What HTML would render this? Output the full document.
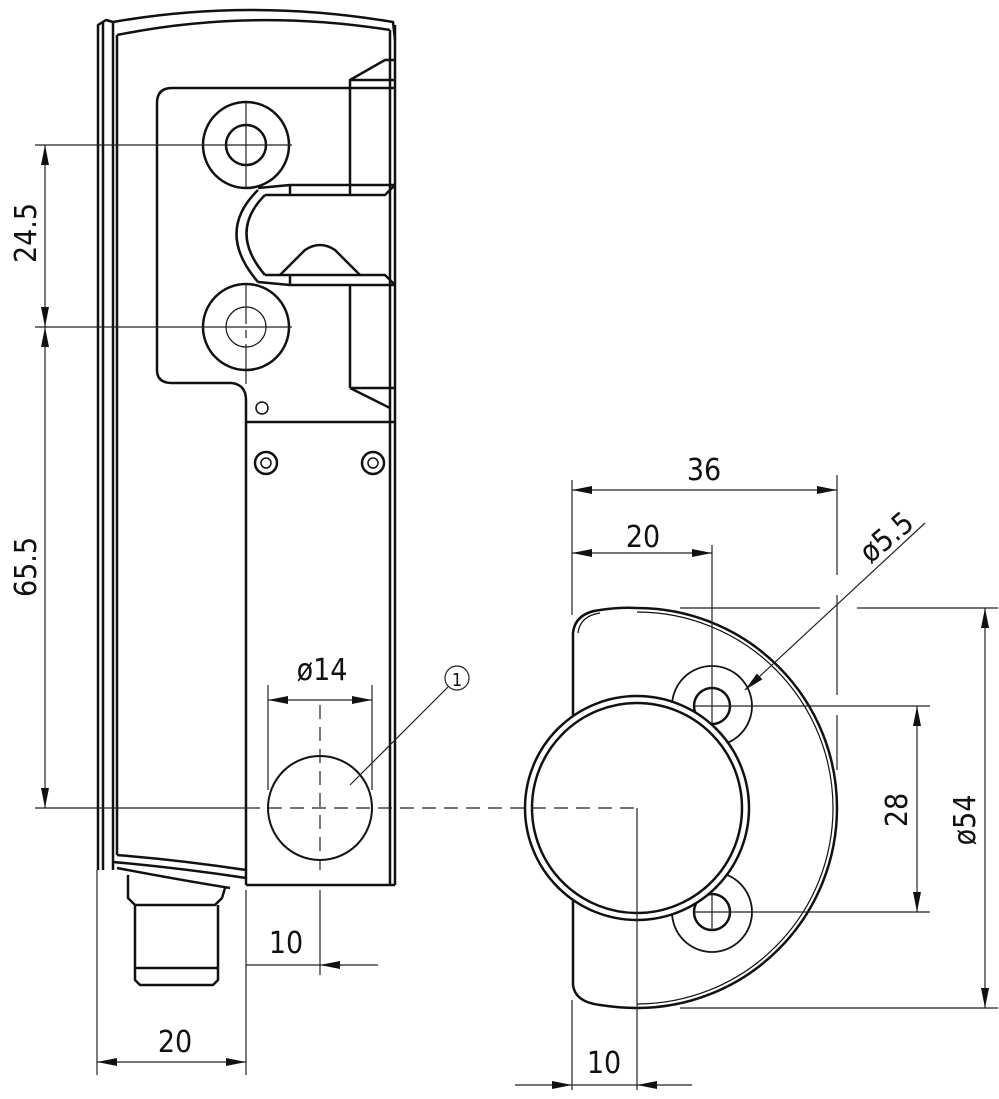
<!DOCTYPE html>
<html><head><meta charset="utf-8"><style>
html,body{margin:0;padding:0;background:#fff;}
svg{display:block;}
text{font-family:"DejaVu Sans Condensed","Liberation Sans Narrow","Liberation Sans",sans-serif;font-size:30px;fill:#111;}
</style></head><body>
<svg width="999" height="1099" viewBox="0 0 999 1099" xmlns="http://www.w3.org/2000/svg">
<defs>
<marker id="a" viewBox="0 0 20 8" refX="20" refY="4" markerWidth="20" markerHeight="8" markerUnits="userSpaceOnUse" orient="auto-start-reverse"><path d="M0,0 L20,4 L0,8 z" fill="#111"/></marker>
</defs>
<g fill="none" stroke="#111" stroke-width="2.5" stroke-linejoin="round">
<path d="M98,870 L98,25 L106,20 L113,22"/>
<line x1="103" y1="22" x2="103" y2="870"/>
<path d="M113,870 L113,22"/>
<path d="M117,35 L117,855"/>
<path d="M113,22 Q250,-2 393,22 L395,40"/>
<path d="M117,35 Q250,8 390,30"/>
<line x1="395" y1="25" x2="395" y2="885"/>
<line x1="390" y1="30" x2="390" y2="885"/>
<path d="M395,88 L172,88 Q157,88 157,103 L157,370 Q157,383 172,383 L232,383 Q246,385 246,400 L246,885"/>
<path d="M350,88 L350,80 L385,60 L395,60"/>
<line x1="350" y1="80" x2="395" y2="80"/>
<line x1="350" y1="88" x2="350" y2="195"/>
<path d="M258,188 L290,185 L395,185"/>
<path d="M265,195 L385,195 L395,185"/>
<line x1="290" y1="185" x2="290" y2="195"/>
<path d="M258,190 Q215,232 258,282"/>
<path d="M265,195 Q228,232 265,275"/>
<path d="M280,275 L305,250 Q320,240 335,250 L360,275"/>
<path d="M258,282 L290,285 L395,285"/>
<path d="M265,275 L385,275 L395,285"/>
<line x1="290" y1="275" x2="290" y2="285"/>
<line x1="350" y1="285" x2="350" y2="388"/>
<path d="M350,388 L390,408"/>
<line x1="350" y1="388" x2="395" y2="388"/>
<line x1="246" y1="422" x2="395" y2="422"/>
<circle cx="262" cy="408" r="6" stroke-width="1.5"/>
<circle cx="246" cy="145" r="43"/>
<circle cx="246" cy="145" r="20"/>
<circle cx="246" cy="327" r="43"/>
<circle cx="246" cy="327" r="20" stroke-width="1.2"/>
<circle cx="266" cy="463" r="11"/><circle cx="266" cy="463" r="5" stroke-width="1.5"/>
<circle cx="373" cy="463" r="11"/><circle cx="373" cy="463" r="5" stroke-width="1.5"/>
<line x1="246" y1="885" x2="395" y2="885"/>
<circle cx="320" cy="808" r="52" stroke-width="2"/>
<path d="M117,855 Q180,860 246,870"/>
<path d="M113,862 Q180,868 246,878"/>
<path d="M117,868 Q180,880 230,888"/>
<path d="M128,875 L128,898 L135,905 L215,905 L222,898 L225,888"/>
<path d="M135,905 L135,980 L140,985 L213,985 L218,980 L218,905"/>
<line x1="135" y1="968" x2="218" y2="968"/>
<!-- right view -->
<path d="M600,610 Q620,607 637,608 A200,200 0 0 1 637,1008 Q620,1008 600,1005 Q575,1002 573,985 L573,633 Q575,613 600,610 z"/>
<path d="M578,633 Q580,616 600,613" stroke-width="1.2"/>
<path d="M637,612 A196,196 0 0 1 637,1004" stroke-width="1.2"/>
<circle cx="712" cy="706" r="40" stroke-width="1.8"/>
<circle cx="712" cy="912" r="40" stroke-width="1.8"/>
<circle cx="712" cy="706" r="18"/>
<circle cx="712" cy="912" r="18"/>
<circle cx="637" cy="808" r="112" fill="#fff"/>
<circle cx="637" cy="808" r="105"/>
</g>
<g fill="none" stroke="#222" stroke-width="1.2">
<line x1="200" y1="145" x2="292" y2="145"/><line x1="246" y1="102" x2="246" y2="188"/>
<line x1="200" y1="327" x2="292" y2="327"/><line x1="246" y1="284" x2="246" y2="390" stroke-dasharray="40,6,8,6"/>
<line x1="35" y1="145" x2="200" y2="145"/>
<line x1="35" y1="327" x2="200" y2="327"/>
<line x1="35" y1="808" x2="246" y2="808"/>
<line x1="246" y1="808" x2="637" y2="808" stroke-dasharray="14,8"/>
<line x1="320" y1="705" x2="320" y2="870" stroke-dasharray="14,8"/>
<line x1="694" y1="706" x2="930" y2="706"/><line x1="712" y1="688" x2="712" y2="724"/>
<line x1="694" y1="912" x2="930" y2="912"/><line x1="712" y1="894" x2="712" y2="930"/>
<line x1="637" y1="808" x2="637" y2="1090"/>
<line x1="712" y1="545" x2="712" y2="690"/>
<line x1="45" y1="145" x2="45" y2="327" marker-start="url(#a)" marker-end="url(#a)"/>
<line x1="45" y1="327" x2="45" y2="808" marker-start="url(#a)" marker-end="url(#a)"/>
<line x1="268" y1="685" x2="268" y2="790"/>
<line x1="372" y1="685" x2="372" y2="790"/>
<line x1="268" y1="700" x2="372" y2="700" marker-start="url(#a)" marker-end="url(#a)"/>
<circle cx="457" cy="678" r="12"/>
<line x1="448" y1="687" x2="350" y2="785"/>
<line x1="246" y1="890" x2="246" y2="1075"/>
<line x1="320" y1="890" x2="320" y2="975"/>
<line x1="246" y1="965" x2="320" y2="965"/>
<line x1="378" y1="965" x2="320" y2="965" marker-end="url(#a)"/>
<line x1="97" y1="870" x2="97" y2="1075"/>
<line x1="97" y1="1062" x2="246" y2="1062" marker-start="url(#a)" marker-end="url(#a)"/>
<line x1="572" y1="480" x2="572" y2="615"/>
<line x1="837" y1="475" x2="837" y2="770" stroke-dasharray="100,20"/>
<line x1="572" y1="490" x2="837" y2="490" marker-start="url(#a)" marker-end="url(#a)"/>
<line x1="572" y1="553" x2="712" y2="553" marker-start="url(#a)" marker-end="url(#a)"/>
<line x1="925" y1="523" x2="745" y2="690" marker-end="url(#a)"/>
<line x1="680" y1="608" x2="820" y2="608"/><line x1="857" y1="608" x2="998" y2="608"/>
<line x1="680" y1="1008" x2="998" y2="1008"/>
<line x1="985" y1="608" x2="985" y2="1008" marker-start="url(#a)" marker-end="url(#a)"/>
<line x1="917" y1="706" x2="917" y2="912" marker-start="url(#a)" marker-end="url(#a)"/>
<line x1="572" y1="1000" x2="572" y2="1090"/>
<line x1="515" y1="1085" x2="572" y2="1085" marker-end="url(#a)"/>
<line x1="692" y1="1085" x2="637" y2="1085" marker-end="url(#a)"/>
<line x1="572" y1="1085" x2="637" y2="1085"/>
</g>
<g>
<text transform="translate(36,233) rotate(-90)" text-anchor="middle">24.5</text>
<text transform="translate(36,567) rotate(-90)" text-anchor="middle">65.5</text>
<text x="322" y="680" text-anchor="middle">ø14</text>
<text x="457" y="686" text-anchor="middle" style="font-size:18px">1</text>
<text x="286" y="953" text-anchor="middle">10</text>
<text x="175" y="1052" text-anchor="middle">20</text>
<text x="704" y="480" text-anchor="middle">36</text>
<text x="643" y="547" text-anchor="middle">20</text>
<text transform="translate(893,545) rotate(-40)" text-anchor="middle">ø5.5</text>
<text transform="translate(907,810) rotate(-90)" text-anchor="middle">28</text>
<text transform="translate(975,820) rotate(-90)" text-anchor="middle">ø54</text>
<text x="604" y="1073" text-anchor="middle">10</text>
</g>
</svg>
</body></html>
